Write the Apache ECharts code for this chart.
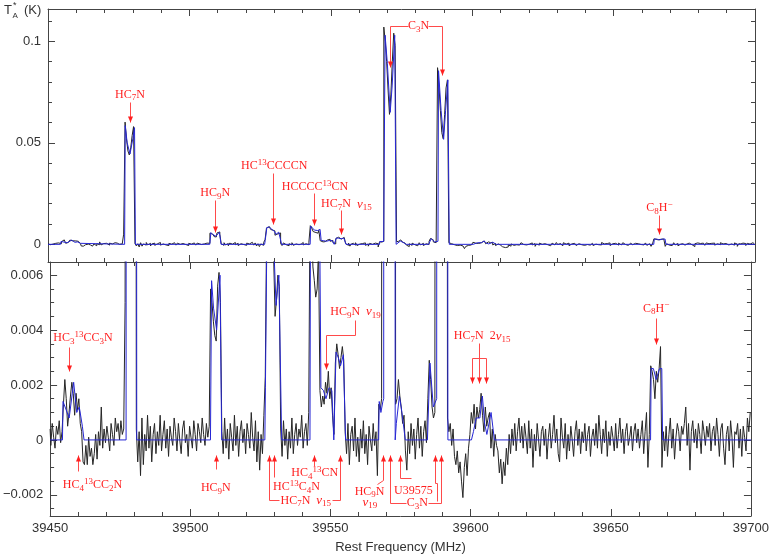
<!DOCTYPE html>
<html><head><meta charset="utf-8">
<script src="https://cdn.jsdelivr.net/npm/echarts@6/dist/echarts.min.js"></script>
<style>html,body{margin:0;padding:0;background:#fff}#c{width:772px;height:555px}</style>
</head><body><div id="c"></div>
<script>
// Observed spectrum, T*A in mK, channels from 39450 MHz every 0.5 MHz
const freqStart = 39450, freqStep = 0.5;
const obsT = [
 0.4,-0.2,0.6,0.1,-0.3,0.5,0.2,0.7,-0.1,0.3,
 1.3,2.2,1.5,0.5,1.0,1.6,2.1,1.7,0.9,1.7,
 1.1,1.5,0.6,0.3,-0.8,-0.9,-0.2,-0.9,0.1,-0.6,
 -0.3,-0.9,-0.5,0.2,-0.7,0.3,-0.2,1.2,-0.3,0.4,
 -0.1,0.5,0.1,-0.4,0.6,0.2,-0.2,0.8,0.3,0.6,
 0.0,0.7,0.2,0.4,5.0,60.2,52.0,46.0,44.0,47.5,
 53.5,58.0,0.4,-0.8,0.3,-1.3,0.8,-0.9,0.2,-0.4,
 0.9,-0.3,0.5,-0.8,0.2,0.6,-0.5,0.3,-0.2,0.9,
 -0.4,0.2,0.7,-0.3,0.4,-0.6,0.5,0.1,-0.2,0.8,
 0.3,-0.4,0.6,0.0,-0.5,0.4,0.7,-0.1,0.2,-0.6,
 0.5,0.1,-0.3,0.7,0.2,-0.4,0.6,0.3,-0.1,0.8,
 0.2,-0.2,0.6,0.1,0.5,5.5,5.0,4.3,3.8,3.6,
 5.6,6.1,5.0,0.3,-0.5,0.8,-0.3,0.4,-0.7,0.6,
 0.1,-0.4,0.9,-0.2,0.5,-0.6,0.3,0.7,-0.1,0.4,
 -0.5,0.6,0.2,-0.3,1.0,0.1,-0.4,0.7,-0.8,0.3,
 -1.1,0.2,-0.5,0.9,2.3,8.0,8.7,8.0,7.3,7.0,
 6.6,4.5,5.1,6.0,5.6,0.4,-0.6,0.7,-0.2,0.4,
 -0.7,0.3,-0.3,0.8,-0.5,0.2,0.6,-0.2,0.4,0.1,
 0.9,-0.3,0.3,0.6,-0.2,1.0,9.2,8.0,6.3,5.8,
 5.2,5.5,7.0,1.8,1.2,1.6,1.3,2.1,1.7,2.5,
 1.5,1.9,0.9,0.2,2.8,3.5,3.1,2.6,3.0,3.4,
 2.9,0.3,-0.5,0.6,-0.9,0.2,0.5,-0.4,0.8,-0.6,
 0.1,-0.8,0.4,-0.3,0.7,-0.5,0.2,-0.9,0.5,0.0,
 -0.4,0.6,-0.2,0.3,-1.3,1.3,1.1,1.5,107,100,
 90,76,64,74,90,104,98,1.3,1.5,2.2,
 1.6,1.2,0.6,0.9,-0.4,-1.1,0.3,-0.5,0.6,-0.2,
 0.4,-0.7,0.2,0.8,-0.3,0.5,-0.6,0.3,0.7,-0.1,
 1.5,2.9,2.2,1.2,0.8,1.0,87,78,66,55,
 52,64,77,81,0.8,0.3,0.6,-0.2,0.4,-0.6,
 -0.9,-0.4,-1.2,-0.8,-1.5,-2.1,-1.0,-0.5,-1.3,-0.3,
 0.2,1.0,0.6,1.3,0.4,1.2,0.8,1.1,1.7,0.9,
 0.3,1.2,0.5,0.8,1.0,-0.3,0.4,-0.6,0.2,-0.2,
 -0.4,-1.2,-0.7,-1.6,-0.8,-1.3,-0.3,-0.9,0.2,-0.5,
 0.4,-0.2,0.6,-0.4,0.3,0.8,-0.1,0.5,-0.3,0.6,
 0.1,-0.5,0.7,-0.3,0.4,-1.0,0.2,-0.4,0.6,0.0,
 -0.6,0.3,0.5,-0.2,0.4,-0.7,0.1,0.6,-0.3,0.2,
 0.9,-0.1,0.4,-0.5,-0.8,0.8,0.1,-0.3,0.6,-0.7,
 0.2,-0.4,0.5,0.0,-0.6,0.3,0.7,-0.2,0.4,-0.5,
 0.3,-0.1,0.6,-0.4,0.2,0.5,-0.6,0.1,0.4,-0.2,
 0.6,-0.3,0.9,0.2,-0.5,0.4,-0.1,0.7,-0.6,0.3,
 -0.2,0.5,0.1,-0.4,0.6,-0.3,0.2,0.8,-0.1,0.4,
 -0.5,0.3,0.6,-0.2,0.1,0.5,-0.4,0.3,0.6,-0.1,
 0.4,-0.3,0.2,0.7,-0.5,0.3,1.0,-1.0,0.2,2.7,
 2.5,2.2,1.5,2.5,2.1,2.6,3.4,-1.0,0.3,-0.4,
 0.5,-0.6,0.2,0.8,-0.3,0.4,-0.7,0.1,0.6,0.3,
 -0.4,0.5,0.2,0.6,1.2,-0.2,0.6,-1.1,0.3,0.7,
 -0.1,0.4,-0.3,0.6,0.2,-0.5,0.7,0.3,-0.2,0.5,
 0.1,0.6,-0.4,0.3,0.5,-0.2,0.8,0.2,-0.6,0.4,
 0.6,-0.3,-0.9,0.2,0.5,-0.4,0.7,0.1,-1.0,0.3,
 0.2,0.6,-0.3,0.4,-0.6,0.5,0.1,-0.4,0.8,0.3,
 1.0
];
// Model (blue), mK
const modelFreq = [39450,39454.4,39454.6,39455.2,39456.8,39458.4,39459.5,39460.4,39461.5,39462.1,
 39477.1,39477.3,39478.0,39479.0,39480.0,39480.6,39480.9,
 39507.2,39507.6,39508.3,39509.4,39510.6,39511.2,
 39526.6,39526.8,39527.4,39528.3,39529.2,39530.0,39530.6,39531.6,39532.6,
 39542.7,39542.9,39544.2,39545.4,39546.2,39546.6,39547.5,39548.4,39549.5,39550.5,39551.2,39551.8,39552.0,39552.8,39553.6,39554.6,39555.4,
 39567.2,39567.4,39568.0,39568.7,39569.0,39569.2,39570.0,39571.0,39571.7,39572.6,39573.1,39573.5,39574.6,39575.5,39576.7,
 39584.6,39585.5,39586.7,39587.9,39588.1,39589.0,39589.9,39590.6,39591.4,39591.9,
 39600.3,39601.0,39602.0,39603.3,39604.2,39605.0,39605.8,39607.3,39608.5,
 39664.2,39664.4,39665.2,39666.2,39667.4,39668.2,39668.5,
 39700];
const modelT = [0,0,1.4,1.4,0.8,2.1,1.0,1.2,0.5,0,
 0,58.5,50,44.5,52,57.5,0,
 0,5.8,4.8,4.0,6.0,0,
 0,1.9,8.3,8.5,7.3,6.5,4.9,6.0,0,
 0,9.0,7.0,6.8,7.4,1.9,1.8,1.5,1.9,1.8,0,0,3.2,3.0,2.7,3.1,0,
 0,1.4,1.0,1.4,1.5,103,89,65,78,103,0,0.6,1.6,1.0,0,
 0,2.8,1.2,1.5,85.5,66,51.7,66,81,0,
 0,0.3,0.8,0.8,1.6,0.6,0.2,1.0,0,
 0,2.6,2.6,2.2,2.6,2.6,0,
 0];
// Tick values (mK) and labels (K)
const topMajor = [0, 50, 100];
const topMajorLabels = ['0', '0.05', '0.1'];
const topMinor = [10, 20, 30, 40, 60, 70, 80, 90, 110];
const botMajor = [-2, 0, 2, 4, 6];
const botMajorLabels = ['\u22120.002', '0', '0.002', '0.004', '0.006'];
const botMinor = [-2.5, -1.5, -1, -0.5, 0.5, 1, 1.5, 2.5, 3, 3.5, 4.5, 5, 5.5];

const chart = echarts.init(document.getElementById('c'));
const obsData = obsT.map((v, i) => [freqStart + i * freqStep, v]);
const modelData = modelFreq.map((f, i) => [f, modelT[i]]);

const AX = '#444';
const FONT = 'Liberation Sans';
function xAx(g, pos, labels) {
  return {gridIndex: g, type: 'value', min: 39450, max: 39700, interval: 50, position: pos,
    axisLine: {show: true, onZero: false, lineStyle: {color: AX, width: 1}},
    axisTick: {show: true, inside: true, length: 7, lineStyle: {color: AX}},
    minorTick: {show: true, splitNumber: 5, length: 4, lineStyle: {color: AX}},
    splitLine: {show: false}, minorSplitLine: {show: false},
    axisLabel: {show: labels, margin: 6, fontSize: 13, fontFamily: FONT, color: '#333', showMinLabel: true, showMaxLabel: true,
      formatter: v => String(Math.round(v))},
    name: labels ? 'Rest Frequency (MHz)' : '', nameLocation: 'middle', nameGap: 25,
    nameTextStyle: {fontSize: 13, fontFamily: FONT, color: '#333'}};
}
function yAx(g, pos, mn, mx, vals, len, labs, line) {
  const o = {gridIndex: g, type: 'value', min: mn, max: mx, position: pos,
    axisLine: {show: line, onZero: false, lineStyle: {color: AX, width: 1}},
    axisTick: {show: true, inside: true, length: len, customValues: vals, lineStyle: {color: AX}},
    splitLine: {show: false},
    axisLabel: {show: false}};
  if (labs) {
    o.axisLabel = {show: true, customValues: vals, margin: 7, fontSize: 13, fontFamily: FONT, color: '#333',
      formatter: v => { const i = vals.findIndex(t => Math.abs(t - v) < 1e-6); return i >= 0 ? labs[i] : ''; }};
  }
  return o;
}
const TMIN = -8.7, TMAX = 115.9, BMIN = -2.77, BMAX = 6.48;
const option = {
  animation: false,
  grid: [{left: 48, right: 17, top: 9, height: 253}, {left: 48, right: 17, top: 262, height: 254}],
  xAxis: [xAx(0, 'bottom', false), xAx(0, 'top', false), xAx(1, 'bottom', true), xAx(1, 'top', false)],
  yAxis: [
    yAx(0, 'left', TMIN, TMAX, topMajor, 7, topMajorLabels, true),
    yAx(0, 'left', TMIN, TMAX, topMinor, 4, null, false),
    yAx(0, 'right', TMIN, TMAX, topMajor, 7, null, true),
    yAx(0, 'right', TMIN, TMAX, topMinor, 4, null, false),
    yAx(1, 'left', BMIN, BMAX, botMajor, 7, botMajorLabels, true),
    yAx(1, 'left', BMIN, BMAX, botMinor, 4, null, false),
    yAx(1, 'right', BMIN, BMAX, botMajor, 7, null, true),
    yAx(1, 'right', BMIN, BMAX, botMinor, 4, null, false)
  ],
  series: [
    {type: 'line', xAxisIndex: 0, yAxisIndex: 0, data: obsData, step: 'middle', symbol: 'none', silent: true, lineStyle: {color: '#262626', width: 1}},
    {type: 'line', xAxisIndex: 0, yAxisIndex: 0, data: modelData, symbol: 'none', silent: true, lineStyle: {color: '#2626d4', width: 1}},
    {type: 'line', xAxisIndex: 2, yAxisIndex: 4, data: obsData, step: 'middle', symbol: 'none', silent: true, lineStyle: {color: '#262626', width: 1}},
    {type: 'line', xAxisIndex: 2, yAxisIndex: 4, data: modelData, symbol: 'none', silent: true, lineStyle: {color: '#2626d4', width: 1}}
  ]
};
chart.setOption(option);

// Annotations (freq MHz, value mK in panel g)
const RED = '#ff2020', LRED = '#ff4a4a';
const texts = [
  [0, '{m|HC}{b|7}{m|N}', 39479.0, 73.8],
  [0, '{m|HC}{b|9}{m|N}', 39509.1, 25.2],
  [0, '{m|HC}{p|13}{m|CCCCN}', 39530.0, 38.6],
  [0, '{m|HCCCC}{p|13}{m|CN}', 39544.4, 28.2],
  [0, '{m|HC}{b|7}{m|N  }{g|\u03bd}{b|15}', 39555.5, 19.8],
  [0, '{m|C}{b|3}{m|N}', 39581.0, 107.4],
  [0, '{m|C}{b|8}{m|H}{p|\u2212}', 39666.2, 17.8],
  [1, '{m|HC}{b|3}{p|13}{m|CC}{b|3}{m|N}', 39461.7, 3.70],
  [1, '{m|HC}{b|4}{p|13}{m|CC}{b|2}{m|N}', 39465.1, -1.64],
  [1, '{m|HC}{b|9}{m|N}', 39509.1, -1.76],
  [1, '{m|HC}{b|7}{m|N  }{g|\u03bd}{b|15}', 39541.2, -2.21],
  [1, '{m|HC}{p|13}{m|C}{b|4}{m|N}', 39537.9, -1.71],
  [1, '{m|HC}{b|4}{p|13}{m|CN}', 39544.4, -1.21],
  [1, '{m|HC}{b|9}{m|N}', 39563.95, -1.88],
  [1, '{g|\u03bd}{b|19}', 39564.1, -2.28],
  [1, '{m|U39575}', 39579.6, -1.84],
  [1, '{m|C}{b|3}{m|N}', 39581.0, -2.30],
  [1, '{m|HC}{b|9}{m|N  }{g|\u03bd}{b|19}', 39558.95, 4.67],
  [1, '{m|HC}{b|7}{m|N  2}{g|\u03bd}{b|15}', 39604.1, 3.78],
  [1, '{m|C}{b|8}{m|H}{p|\u2212}', 39666.2, 4.79]
];
const lines = [
  [0, [[39479.0,69.8],[39479.0,59.9]], true],
  [0, [[39509.4,21.8],[39509.4,5.9]], true],
  [0, [[39529.7,35.1],[39529.7,9.9]], true],
  [0, [[39544.4,25.2],[39544.4,9.4]], true],
  [0, [[39553.65,16.8],[39553.65,5.0]], true],
  [0, [[39577.5,107.4],[39571.1,107.4],[39571.1,87.1]], true],
  [0, [[39584.6,107.4],[39589.6,107.4],[39589.6,83.2]], true],
  [0, [[39666.25,14.4],[39666.25,5.0]], true],
  [1, [[39456.8,3.35],[39456.8,2.48]], true],
  [1, [[39460.2,-1.15],[39460.2,-0.55]], true],
  [1, [[39509.4,-1.09],[39509.4,-0.55]], true],
  [1, [[39531.8,-2.21],[39528.3,-2.21],[39528.3,-0.55]], true],
  [1, [[39550.6,-2.21],[39553.65,-2.21],[39553.65,-0.55]], true],
  [1, [[39530.0,-1.35],[39530.0,-0.55]], true],
  [1, [[39544.2,-0.97],[39544.2,-0.55]], true],
  [1, [[39566.86,-1.64],[39568.98,-1.49],[39568.98,-0.55]], true],
  [1, [[39578.9,-1.39],[39574.9,-1.39],[39574.9,-0.55]], true],
  [1, [[39577.1,-2.30],[39571.35,-2.30],[39571.35,-0.55]], true],
  [1, [[39584.9,-2.30],[39589.6,-2.30],[39589.6,-0.55]], true],
  [1, [[39588.2,-2.24],[39588.2,-1.57],[39587.3,-1.57],[39587.3,-0.55]], true],
  [1, [[39558.95,4.36],[39558.95,3.82],[39548.7,3.82],[39548.7,2.55]], true],
  [1, [[39603.2,3.52],[39603.2,2.97]], false],
  [1, [[39600.6,2.97],[39605.8,2.97]], false],
  [1, [[39600.6,2.97],[39600.6,2.06]], true],
  [1, [[39603.2,2.97],[39603.2,2.06]], true],
  [1, [[39605.8,2.97],[39605.8,2.06]], true],
  [1, [[39666.25,4.44],[39666.25,3.48]], true]
];
function px(g, f, v) { return chart.convertToPixel({xAxisIndex: g * 2, yAxisIndex: g * 4}, [f, v]); }
const SER = 'Liberation Serif';
const rich = {
  m: {fontSize: 12, fontFamily: SER, fill: RED, lineHeight: 16},
  b: {fontSize: 9, fontFamily: SER, fill: RED, lineHeight: 9, verticalAlign: 'bottom'},
  p: {fontSize: 9, fontFamily: SER, fill: RED, lineHeight: 9, verticalAlign: 'top'},
  g: {fontSize: 13, fontFamily: SER, fontStyle: 'italic', fill: RED, lineHeight: 16}
};
const gr = [];
texts.forEach(([g, t, f, v]) => {
  const p = px(g, f, v);
  gr.push({type: 'text', x: p[0], y: p[1], z: 100, silent: true,
    style: {text: t, rich: rich, align: 'center', verticalAlign: 'middle', fill: RED, font: '12px ' + SER}});
});
const snap = a => Math.round(a - 0.5) + 0.5;
lines.forEach(([g, pts, arrow]) => {
  const pp = pts.map(q => { const p = px(g, q[0], q[1]); return [snap(p[0]), snap(p[1])]; });
  gr.push({type: 'polyline', z: 100, silent: true, shape: {points: pp}, style: {stroke: LRED, lineWidth: 1, fill: null}});
  if (arrow) {
    const a = pp[pp.length - 1], b = pp[pp.length - 2];
    let dx = a[0] - b[0], dy = a[1] - b[1];
    const L = Math.hypot(dx, dy) || 1; dx /= L; dy /= L;
    const bx = a[0] - dx * 6, by = a[1] - dy * 6;
    gr.push({type: 'polygon', z: 101, silent: true,
      shape: {points: [a, [bx - dy * 2.5, by + dx * 2.5], [bx + dy * 2.5, by - dx * 2.5]]},
      style: {fill: RED}});
  }
});
// y-axis title T*A (K)
gr.push({type: 'text', x: 4, y: 4, style: {text: 'T', font: '13px ' + FONT, fill: '#333'}});
gr.push({type: 'text', x: 13, y: 1, style: {text: '*', font: '9px ' + FONT, fill: '#333'}});
gr.push({type: 'text', x: 12.5, y: 12, style: {text: 'A', font: '8px ' + FONT, fill: '#333'}});
gr.push({type: 'text', x: 24, y: 4, style: {text: '(K)', font: '13px ' + FONT, fill: '#333'}});
chart.setOption({graphic: gr});
</script></body></html>
